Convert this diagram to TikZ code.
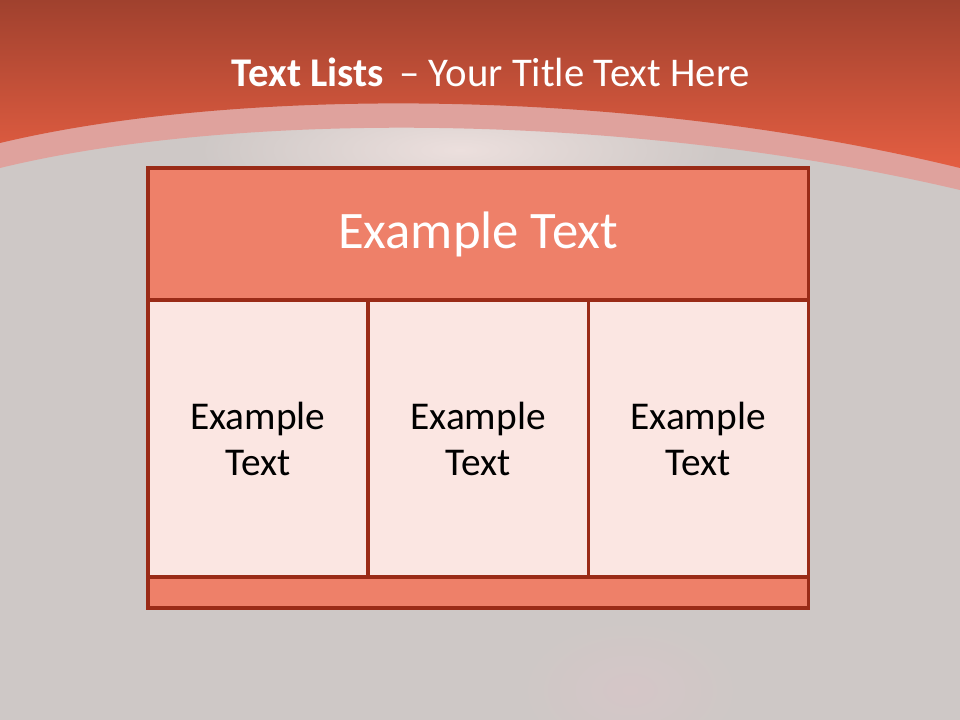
\documentclass[tikz,border=0pt]{standalone}
\usepackage{fontspec}
\setmainfont{Carlito}
\usepackage{tikz}
\usetikzlibrary{positioning}
\definecolor{SkyTop}{HTML}{A0412E}
\definecolor{SkyBot}{HTML}{E45E42}
\definecolor{ArcBand}{HTML}{DFA29D}
\definecolor{BackGrey}{HTML}{CEC8C6}
\definecolor{GlowPale}{HTML}{ECDFDD}
\definecolor{NebPink}{HTML}{D5C6C7}
\definecolor{HeadFill}{HTML}{EE8069}
\definecolor{CellFill}{HTML}{FBE6E2}
\definecolor{FrameRed}{HTML}{9A2B17}
\begin{document}
\begin{tikzpicture}[x=0.025cm,y=-0.025cm,node distance=0pt]
  \tikzstyle{headbox}=[draw=FrameRed,line width=2.3pt,fill=HeadFill,
    inner sep=0pt,outer sep=0pt,minimum width=16.5cm,minimum height=3.3cm,
    text=white,font=\fontsize{37.5}{44}\selectfont]
  \tikzstyle{cellbox}=[draw=FrameRed,line width=2.3pt,fill=CellFill,
    inner sep=0pt,outer sep=0pt,minimum width=5.5cm,minimum height=6.925cm,
    align=center,font=\fontsize{28}{32.7}\selectfont]
  \tikzstyle{footbox}=[draw=FrameRed,line width=2.3pt,fill=HeadFill,
    inner sep=0pt,outer sep=0pt,minimum width=16.5cm,minimum height=0.775cm]
  \useasboundingbox (0,0) rectangle (960,720);
  % background
  \fill[BackGrey] (0,0) rectangle (960,720);
  \shade[inner color=GlowPale,outer color=BackGrey]
    (460,150) ellipse [x radius=260, y radius=70];
  \shade[inner color=NebPink,outer color=BackGrey]
    (630,690) ellipse [x radius=110, y radius=70];
  \fill[ArcBand] (0,0) -- (0,168) .. controls (230,112) and (620,110) .. (960,190)
    -- (960,0) -- cycle;
  \shade[top color=SkyTop,bottom color=SkyBot] (0,0) -- (0,143)
    .. controls (230,88) and (620,85) .. (960,168) -- (960,0) -- cycle;
  % title
  \node[anchor=base,text=white,font=\fontsize{29}{34}\selectfont] (title) at (491,87)
    {\textbf{Text Lists}\hspace{0.15em} -- Your Title Text Here};
  % table
  \node[headbox,anchor=north west] (hdr) at (148,168) {Example Text};
  \node[cellbox,below right=of hdr.south west] (colA) {Example\\Text};
  \node[cellbox,right=of colA] (colB) {Example\\Text};
  \node[cellbox,right=of colB] (colC) {Example\\Text};
  \node[footbox,below right=of colA.south west] (foot) {};
\end{tikzpicture}
\end{document}
